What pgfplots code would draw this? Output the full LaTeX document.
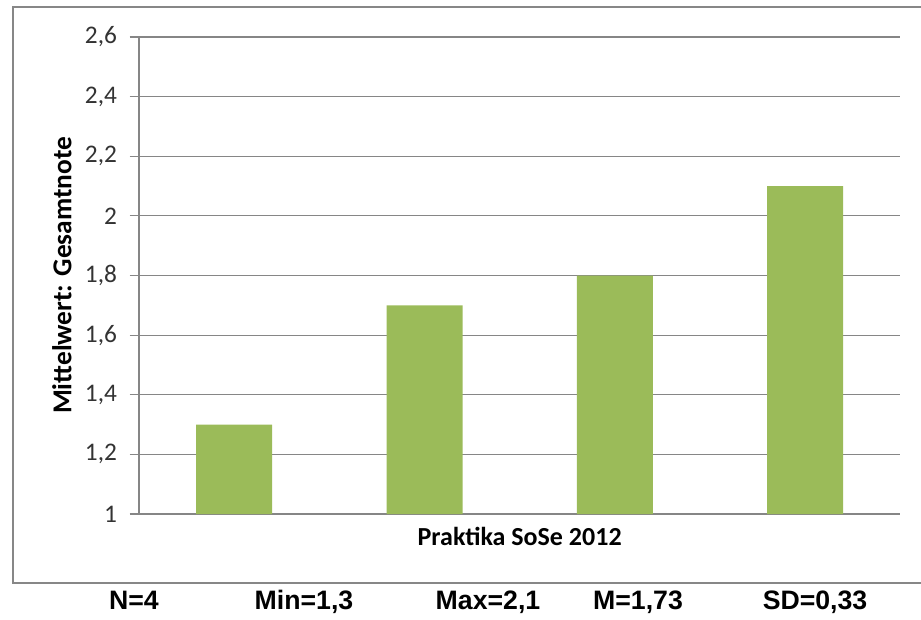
\documentclass[border=0pt]{standalone}
\usepackage{fontspec}
\setmainfont{Carlito}
\newfontfamily\arial{Liberation Sans}
\usepackage{pgfplots}
\pgfplotsset{compat=1.18}
\definecolor{bargreen}{HTML}{9BBB59}
\definecolor{gridgray}{HTML}{868686}
\definecolor{framegray}{HTML}{878787}

\begin{document}
\begin{tikzpicture}[x=0.75pt,y=-0.75pt]
\path[use as bounding box] (0,0) rectangle (921,619);
% outer chart frame (cut at the right edge)
\draw[framegray, line width=1.6pt] (930,7) -- (13,7) -- (13,583) -- (930,583);
\coordinate (origin) at (139,514);
\begin{axis}[
  at={(origin)}, anchor=south west,
  width=571pt, height=357.75pt, scale only axis,
  ybar, bar width=57pt, bar shift=0pt,
  xmin=0.5, xmax=4.5, ymin=1, ymax=2.6,
  ytick={1,1.2,...,2.6},
  xtick=\empty,
  axis x line=bottom, axis y line=left,
  axis line style={gridgray, line width=0.9pt, -},
  ymajorgrids, grid style={gridgray, line width=0.9pt},
  tick style={gridgray, line width=0.9pt},
  tick align=outside, major tick length=7pt,
  y tick label style={font=\fontsize{19}{22}\selectfont, text=black!80, xshift=-6pt},
  /pgf/number format/.cd, fixed, precision=1, use comma, assume math mode=true,
  /pgfplots/.cd,
  ylabel={\bfseries Mittelwert: Gesamtnote},
  ylabel style={font=\fontsize{20.5}{24}\selectfont, at={(axis description cs:0,0.5)}, anchor=center, yshift=57.75pt},
  xlabel={\bfseries Praktika SoSe 2012},
  xlabel style={font=\fontsize{19.5}{23}\selectfont, at={(axis description cs:0.5,0)}, anchor=center, yshift=-17pt},
  clip=false]
\addplot[fill=bargreen, draw=none] coordinates {(1,1.3) (2,1.7) (3,1.8) (4,2.1)};
\end{axis}
% statistics line below the frame
\begin{scope}[every node/.style={font=\arial\bfseries\fontsize{20}{23}\selectfont, anchor=base}]
\node at (134,609) {N=4};
\node at (304,609) {Min=1,3};
\node at (488,609) {Max=2,1};
\node at (638,609) {M=1,73};
\node at (815,609) {SD=0,33};
\end{scope}
\end{tikzpicture}
\end{document}
